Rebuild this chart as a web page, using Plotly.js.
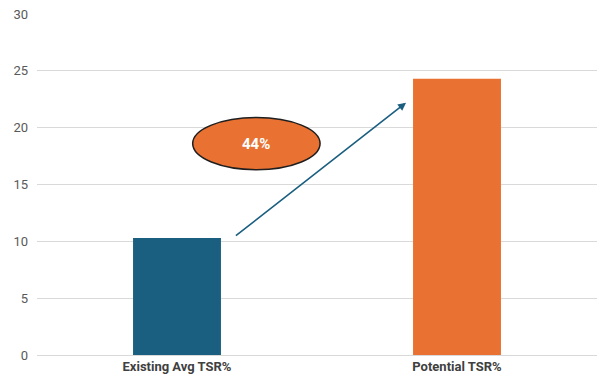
<!DOCTYPE html>
<html><head><meta charset="utf-8">
<script src="https://cdn.plot.ly/plotly-3.0.1.min.js"></script>
<style>body{margin:0}#c{width:598px;height:387px}</style>
</head><body><div id="c"></div>
<script>
const categories = ["Existing Avg TSR%", "Potential TSR%"];
const values = [10.3, 24.3];
const barColors = ["#1a5e80", "#e97132"];
const growthLabel = "44%";
const yTicks = [0, 5, 10, 15, 20, 25, 30];

const fnt = "'Liberation Sans Narrow', 'Arial Narrow', Roboto, sans-serif";
Plotly.newPlot("c", [{
  type: "bar", x: categories, y: values,
  marker: {color: barColors}, width: 0.314, hoverinfo: "skip"
}], {
  width: 598, height: 387,
  margin: {l: 37, r: 1, t: 14, b: 32},
  paper_bgcolor: "#fff", plot_bgcolor: "#fff",
  showlegend: false,
  xaxis: {type: "category", showgrid: false, zeroline: false, showline: false, ticks: "",
    tickfont: {family: fnt, size: 13, color: "#404040", weight: 700}, ticklabelstandoff: 2},
  yaxis: {range: [0, 30], tickvals: yTicks, showgrid: true, gridcolor: "#d9d9d9", gridwidth: 1,
    zeroline: true, zerolinecolor: "#d9d9d9", showline: false, ticks: "",
    tickfont: {family: fnt, size: 13, color: "#595959"}, ticklabelstandoff: 8},
  shapes: [{type: "circle", xref: "x", yref: "y", x0: 0.056, x1: 0.511, y0: 16.3, y1: 20.9,
    fillcolor: "#e97132", line: {color: "#1f1f1f", width: 1.5}}],
  annotations: [
    {x: 0.283, y: 18.6, xref: "x", yref: "y", text: "<b>" + growthLabel + "</b>", showarrow: false,
      font: {family: fnt, size: 15, color: "#ffffff"}},
    {x: 0.818, y: 22.2, ax: 0.205, ay: 10.4, xref: "x", yref: "y", axref: "x", ayref: "y",
      text: "", showarrow: true, arrowhead: 2, arrowsize: 1, arrowwidth: 1.6, arrowcolor: "#1a5e80"}
  ]
}, {staticPlot: true});
</script></body></html>
